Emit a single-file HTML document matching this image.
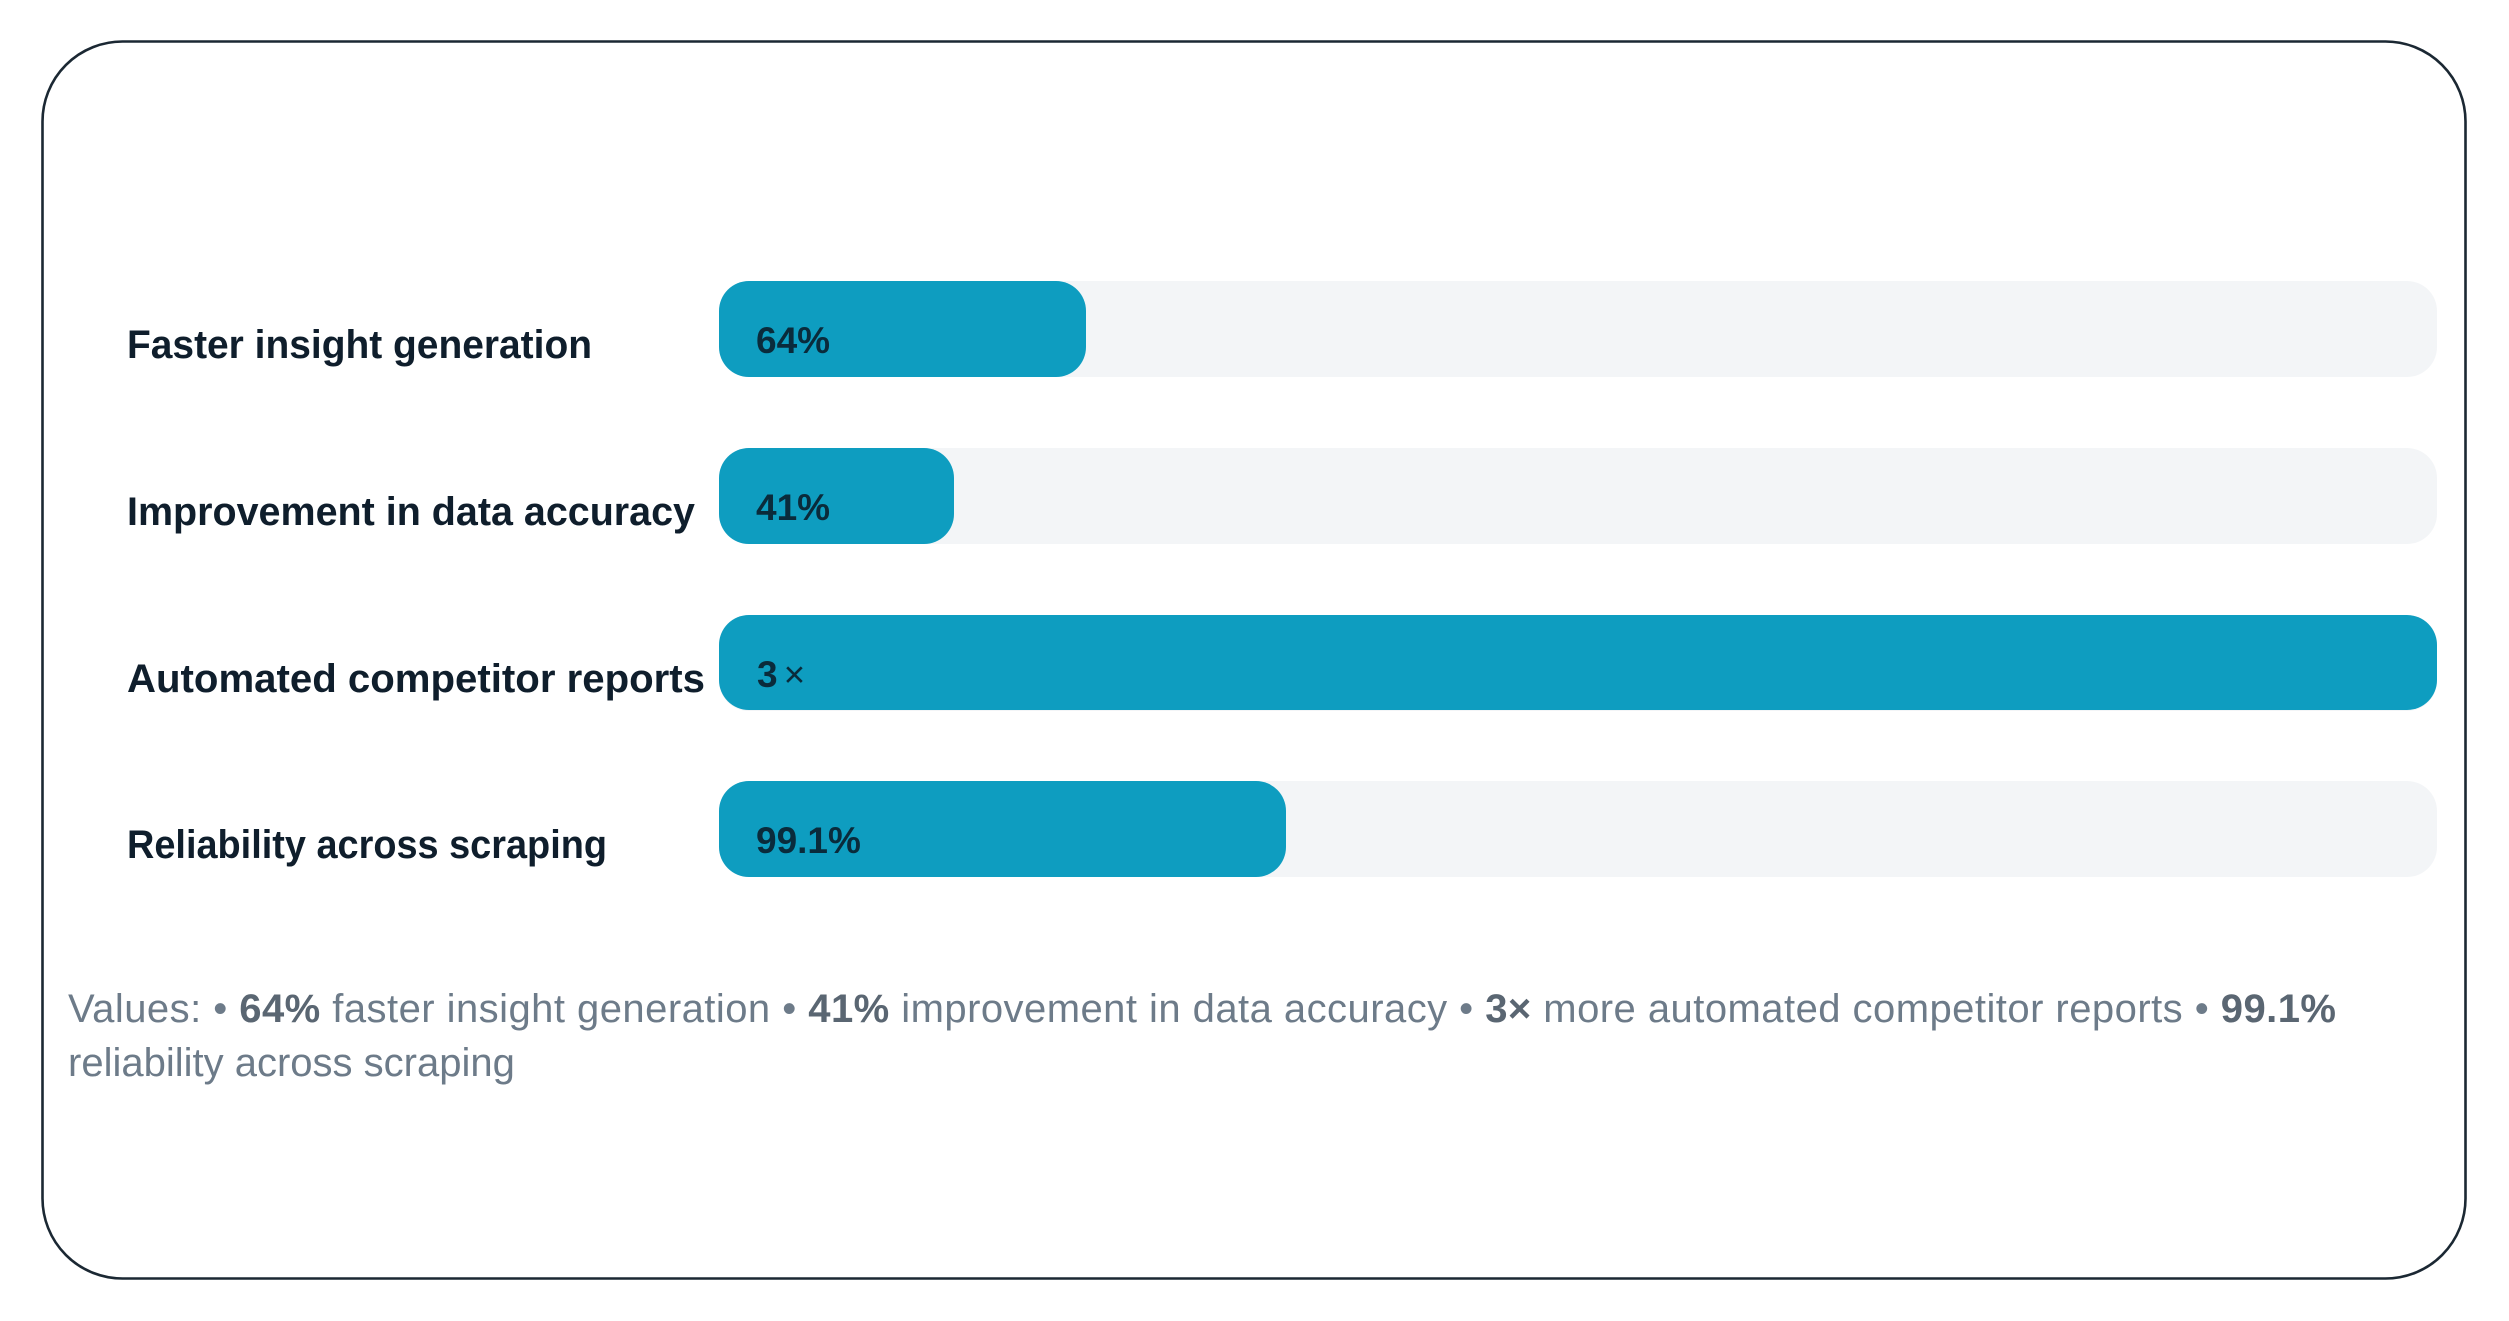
<!DOCTYPE html>
<html>
<head>
<meta charset="utf-8">
<style>
  html, body { margin: 0; padding: 0; background: #ffffff; }
  body { width: 2509px; height: 1321px; overflow: hidden; }
  svg { display: block; }
  text { font-family: "Liberation Sans", "DejaVu Sans", sans-serif; }
</style>
</head>
<body>
<svg width="2509" height="1321" viewBox="0 0 2509 1321" xmlns="http://www.w3.org/2000/svg">
  <rect x="0" y="0" width="2509" height="1321" fill="#ffffff"/>
  <!-- card -->
  <rect x="42.5" y="41.5" width="2423" height="1237" rx="80" ry="80" fill="#ffffff" stroke="#1b2833" stroke-width="2.6"/>

  <!-- tracks -->
  <rect x="719" y="281" width="1718" height="96" rx="30" ry="30" fill="#f3f5f7"/>
  <rect x="719" y="448" width="1718" height="96" rx="30" ry="30" fill="#f3f5f7"/>
  <rect x="719" y="615" width="1718" height="96" rx="30" ry="30" fill="#f3f5f7"/>
  <rect x="719" y="781" width="1718" height="96" rx="30" ry="30" fill="#f3f5f7"/>

  <!-- bars -->
  <rect x="719" y="281" width="367" height="96" rx="30" ry="30" fill="#0e9dc0"/>
  <rect x="719" y="448" width="235" height="96" rx="30" ry="30" fill="#0e9dc0"/>
  <rect x="719" y="615" width="1718" height="95" rx="30" ry="30" fill="#0e9dc0"/>
  <rect x="719" y="781" width="567" height="96" rx="30" ry="30" fill="#0e9dc0"/>

  <!-- labels -->
  <g font-size="40" font-weight="bold" fill="#0f1e2c">
    <text x="127" y="358" textLength="465" lengthAdjust="spacingAndGlyphs">Faster insight generation</text>
    <text x="127" y="525" textLength="568" lengthAdjust="spacingAndGlyphs">Improvement in data accuracy</text>
    <text x="127" y="692" textLength="578" lengthAdjust="spacingAndGlyphs">Automated competitor reports</text>
    <text x="127" y="858" textLength="480" lengthAdjust="spacingAndGlyphs">Reliability across scraping</text>
  </g>

  <!-- values -->
  <g font-size="37" font-weight="bold" fill="#0a2b3b">
    <text x="756" y="353">64%</text>
    <text x="756" y="520">41%</text>
    <text x="757" y="687">3<tspan dx="6" font-weight="normal">×</tspan></text>
    <text x="756" y="853">99.1%</text>
  </g>

  <!-- footer -->
  <g font-size="40" fill="#6d7b89">
    <text x="68" y="1022" textLength="2268" lengthAdjust="spacing">Values: • <tspan font-weight="bold" fill="#5a6672">64%</tspan> faster insight generation • <tspan font-weight="bold" fill="#5a6672">41%</tspan> improvement in data accuracy • <tspan font-weight="bold" fill="#5a6672">3×</tspan> more automated competitor reports • <tspan font-weight="bold" fill="#5a6672">99.1%</tspan></text>
    <text x="68" y="1076">reliability across scraping</text>
  </g>
</svg>
</body>
</html>
